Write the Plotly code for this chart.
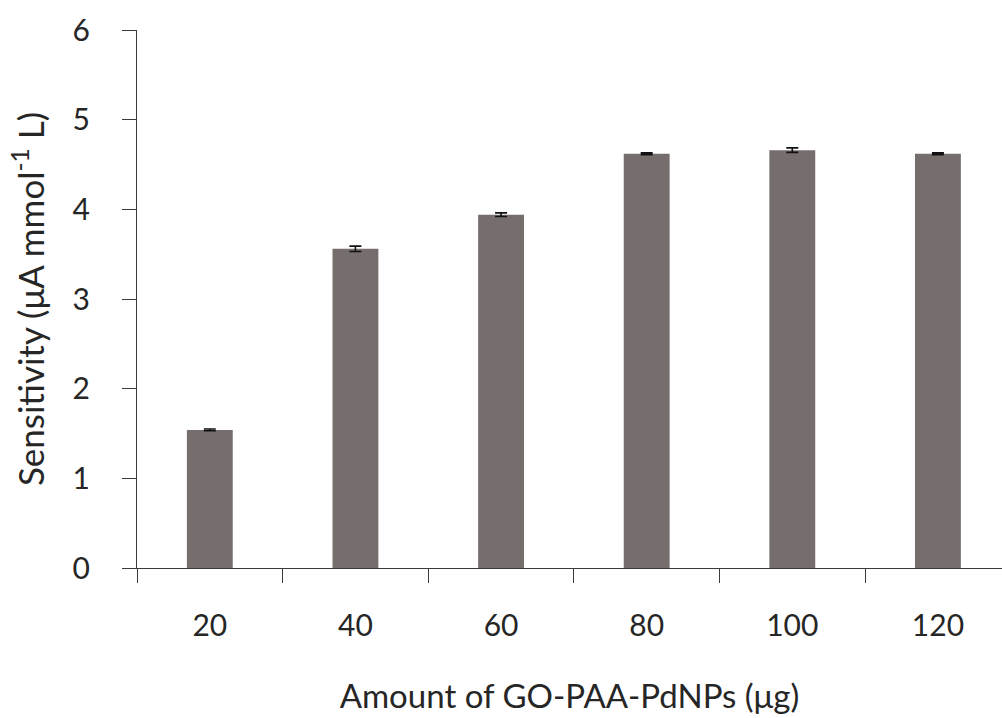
import plotly.graph_objects as go

# Electrode loading vs. sensitivity
amounts = ["20", "40", "60", "80", "100", "120"]
sensitivity = [1.54, 3.56, 3.94, 4.62, 4.66, 4.62]
errors = [0.01, 0.03, 0.02, 0.01, 0.025, 0.01]
y_ticks = [0, 1, 2, 3, 4, 5, 6]

FONT = "Lato"
TXT = "#262626"
AX = "#3a3a3a"

fig = go.Figure(
    go.Bar(
        x=amounts,
        y=sensitivity,
        marker=dict(color="#766e6c", line=dict(width=0)),
        error_y=dict(type="data", array=errors, color="#111111",
                     thickness=1.6, width=6),
        width=0.315,
    )
)

fig.update_layout(
    width=1002,
    height=718,
    margin=dict(l=137, r=0, t=30, b=150),
    paper_bgcolor="white",
    plot_bgcolor="white",
    showlegend=False,
    font=dict(family=FONT, color=TXT, size=30),
)

fig.update_xaxes(
    type="category",
    range=[-0.5, 5.44],
    tickson="boundaries",
    ticks="outside",
    ticklen=14,
    tickcolor=AX,
    tickwidth=1,
    showline=True,
    linecolor=AX,
    linewidth=1,
    showgrid=False,
    tickfont=dict(size=30, family=FONT, color=TXT),
    ticklabelstandoff=31,
    title=dict(text="Amount of GO-PAA-PdNPs (μg)", standoff=43,
               font=dict(size=33, family=FONT, color=TXT)),
)

fig.update_yaxes(
    range=[0, 6],
    tickvals=y_ticks,
    ticks="outside",
    ticklen=14,
    tickcolor=AX,
    tickwidth=1,
    showline=True,
    linecolor=AX,
    linewidth=1,
    showgrid=False,
    zeroline=False,
    tickfont=dict(size=30, family=FONT, color=TXT),
    ticklabelstandoff=26,
    title=dict(text="Sensitivity (μA mmol<sup>-1</sup> L)", standoff=17,
               font=dict(size=35, family=FONT, color=TXT)),
)

fig.write_html("out.html")
